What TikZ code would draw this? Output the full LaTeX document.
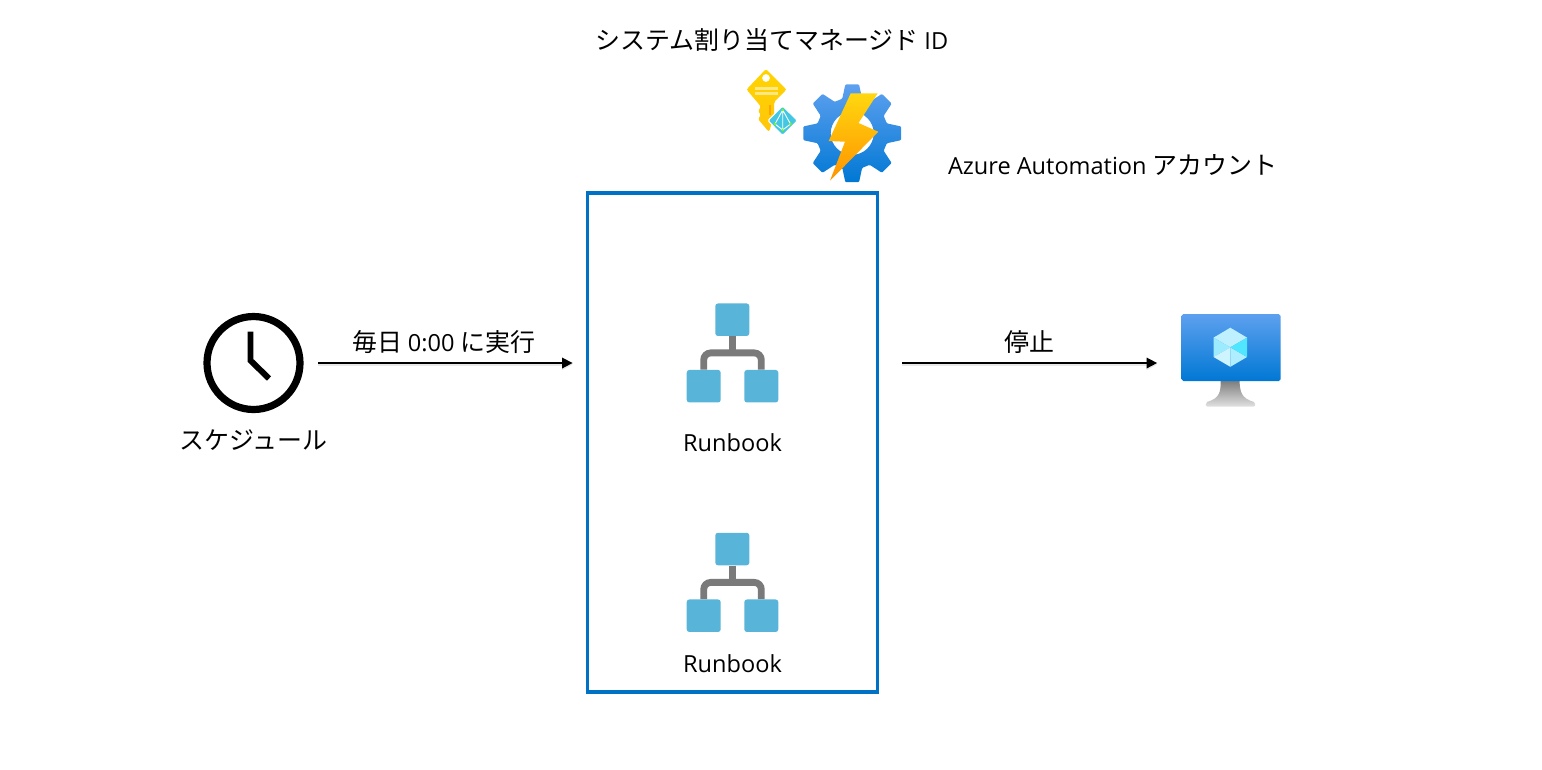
\documentclass[tikz,border=0pt]{standalone}
\usepackage{fontspec}
\setmainfont{Open Sans}
\newfontfamily\jafont{Noto Sans CJK JP}
\usetikzlibrary{arrows.meta}
\definecolor{boxblue}{HTML}{0072C6}
\definecolor{azuretop}{HTML}{5EA0EF}
\definecolor{azurebot}{HTML}{0078D4}
\definecolor{leaf}{HTML}{59B4D9}
\definecolor{stem}{HTML}{7A7A7A}
\definecolor{bolttop}{HTML}{FFD70F}
\definecolor{boltbot}{HTML}{FF9300}
\definecolor{keytop}{HTML}{FFD400}
\definecolor{keybot}{HTML}{FFC60A}
\newcommand{\lat}{\normalfont\fontsize{13.4}{16}\selectfont}
\newcommand{\ja}{\jafont\fontsize{14.2}{17}\selectfont}
\begin{document}
\begin{tikzpicture}[x=0.02cm,y=-0.02cm]
	\tikzstyle{caption} = [inner sep=0pt, text=black, font=\lat]
	\tikzstyle{jacaption} = [inner sep=0pt, text=black, font=\ja]
	\tikzstyle{leafbox} = [fill=leaf, rounded corners=1.5pt, minimum width=0.68cm, minimum height=0.65cm, inner sep=0pt]
	\tikzstyle{branch} = [draw=stem, line width=3.9pt]
	\tikzstyle{flow} = [draw=black, line width=0.95pt, -{Triangle[length=6pt,width=6pt]},
		preaction={draw=black!9, line width=1.8pt, transform canvas={yshift=-0.9pt}}]
	\useasboundingbox (0,0) rectangle (1542,769);
	% automation account
	\node[draw=boxblue, line width=2.1pt, minimum width=5.8cm, minimum height=9.98cm, inner sep=0pt, outer sep=0pt] (account) at (732.5,442.5) {};
	% first runbook
	\node[leafbox] (top1) at (732.3,319.7) {};
	\node[leafbox] (left1) at (703.7,386.2) {};
	\node[leafbox] (right1) at (761.3,386.2) {};
	\draw[branch] (top1.south) -- ++(0,17.3);
	\draw[branch, rounded corners=4pt] (left1.north) -- ++(0,-16.7) -| (right1.north);
	\node[caption] (run1) at (732.5,443) {Runbook};
	% second runbook
	\node[leafbox] (top2) at (732.3,549) {};
	\node[leafbox] (left2) at (703.7,615.7) {};
	\node[leafbox] (right2) at (761.3,615.7) {};
	\draw[branch] (top2.south) -- ++(0,17.3);
	\draw[branch, rounded corners=4pt] (left2.north) -- ++(0,-16.7) -| (right2.north);
	\node[caption] (run2) at (732.5,664) {Runbook};
	% schedule
	\node[circle, draw=black, line width=4.1pt, minimum size=1.86cm, inner sep=0pt, outer sep=0pt] (clock) at (253.5,363) {};
	\draw[black, line width=3.4pt] (250.5,331.5) -- (250.5,360.5) -- (269,378.5);
	\node[jacaption] (sched) at (253.5,440) {スケジュール};
	% vm
	\node[minimum width=1.98cm, minimum height=1.84cm, inner sep=0pt, outer sep=0pt] (vm) at (1230.5,363) {};
	\shade[top color=black!52, bottom color=black!12] (1220.7,380) .. controls (1220.7,392) and (1220,398) .. (1207,402) .. controls (1205,404) and (1205.5,406.5) .. (1207,406.5) -- (1254,406.5) .. controls (1255.5,406.5) and (1256,404) .. (1254,402) .. controls (1241,398) and (1240,392) .. (1239.5,380) -- cycle;
	\shade[top color=azuretop, bottom color=azurebot, rounded corners=1pt] (1181.5,314) rectangle (1280.5,381);
	\fill[fill={rgb,255:red,190;green,240;blue,255}] (1230.3,347.3) -- (1213.6,337.6) -- (1230.3,327.7) -- (1247,337.6) -- cycle;
	\fill[fill={rgb,255:red,156;green,235;blue,255}] (1230.3,347.3) -- (1213.6,337.6) -- (1213.6,357) -- cycle;
	\fill[fill={rgb,255:red,205;green,244;blue,255}] (1230.3,347.3) -- (1213.6,357) -- (1230.3,366.8) -- cycle;
	\fill[fill={rgb,255:red,175;green,238;blue,255}] (1230.3,347.3) -- (1247,357) -- (1230.3,366.8) -- cycle;
	\fill[fill={rgb,255:red,80;green,230;blue,255}] (1230.3,347.3) -- (1247,337.6) -- (1247,357) -- cycle;
	% connectors
	\draw[flow, shorten <=10.2pt, shorten >=8.5pt] (clock.east) -- node[jacaption, yshift=0.41cm] (daily) {毎日 {\lat 0:00} に実行} (clock.east -| account.west);
	\draw[flow, shorten <=14.2pt, shorten >=13.6pt] (vm.west -| account.east) -- node[jacaption, yshift=0.41cm] (stopvm) {停止} (vm.west);
	% gear
	\begin{scope}[shift={(852.2,133.3)}]
		\shade[top color=azuretop, bottom color=azurebot, even odd rule, rounded corners=0.6pt]
			(-16:36) -- (-8:49.4) -- (8:49.4) -- (16:36)
			\foreach \a in {45,90,...,315} { -- (\a-16:36) -- (\a-8:49.4) -- (\a+8:49.4) -- (\a+16:36) } -- cycle
			(0,0) circle (21.5);
	\end{scope}
	\shade[top color=bolttop, bottom color=boltbot] (850.7,93.3) -- (877.7,93.3) -- (858.5,123) -- (878.3,131.7) -- (830,180.7) -- (845,141.7) -- (828.7,141) -- cycle;
	% key
	\shade[top color=keytop, bottom color=keybot, even odd rule, rounded corners=1.2pt] (766,69) -- (786.5,89.5) -- (774,102) -- (774,116) -- (769,132) -- (758,119) -- (761,115) -- (758,111) -- (761,107) -- (758,103) -- (746.5,89.5) -- cycle (766,78) circle (4);
	\fill[white, opacity=.5] (755,86.5) rectangle (778,89.5);
	\fill[white, opacity=.5] (755,92) rectangle (778,95);
	\fill[orange, opacity=.5] (768.5,105) rectangle (770.5,115);
	\fill[fill=leaf!75!cyan, draw=white, line width=0.6pt, rounded corners=0.8pt] (782.7,106) -- (797.5,120.7) -- (782.7,135.5) -- (768,120.7) -- cycle;
	\draw[white, line width=0.5pt] (782.7,110) -- (775,124) -- (782.7,130) -- (790.5,124) -- cycle (782.7,110) -- (782.7,130);
	\foreach \p in {(782.7,110),(775,124),(782.7,130),(790.5,124)}
		\fill[green!55!yellow] \p circle (1.3);
	% captions
	\node[jacaption] (identity) at (772,40) {システム割り当てマネージド {\lat ID}};
	\node[jacaption] (autoacct) at (1112.5,165) {{\lat Azure Automation} アカウント};
\end{tikzpicture}
\end{document}
